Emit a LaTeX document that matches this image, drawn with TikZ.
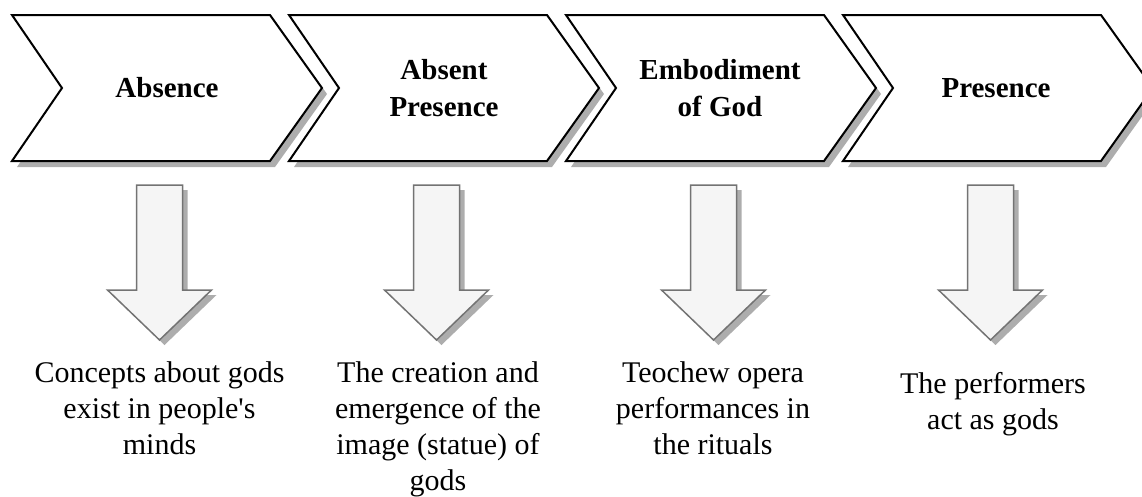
\documentclass[tikz,border=0pt]{standalone}
\usepackage{fontspec}
\setmainfont{Liberation Serif}
\begin{document}
\begin{tikzpicture}[x=1pt,y=-1pt,
  chev/.style={draw=black,line width=2pt,fill=white},
  shade/.style={fill=black!32,draw=none},
  darrow/.style={draw=black!55,line width=1.5pt,fill=black!4},
  title/.style={font=\bfseries\fontsize{29}{37}\selectfont,align=center,inner sep=0pt},
  caption/.style={font=\fontsize{30}{36}\selectfont,align=center,inner sep=0pt,anchor=north}]
\useasboundingbox (0,0) rectangle (1142,496);
% shadows of the chevrons
\fill[shade,shift={(17,6)}] (0,15) -- (258,15) -- (310,88) -- (258,161) -- (0,161) -- (50,88) -- cycle;
\fill[shade,shift={(294,6)}] (0,15) -- (258,15) -- (310,88) -- (258,161) -- (0,161) -- (50,88) -- cycle;
\fill[shade,shift={(571,6)}] (0,15) -- (258,15) -- (310,88) -- (258,161) -- (0,161) -- (50,88) -- cycle;
\fill[shade,shift={(848,6)}] (0,15) -- (258,15) -- (310,88) -- (258,161) -- (0,161) -- (50,88) -- cycle;
% chevrons
\draw[chev,shift={(12,0)}] (0,15) -- (258,15) -- (310,88) -- (258,161) -- (0,161) -- (50,88) -- cycle;
\draw[chev,shift={(289,0)}] (0,15) -- (258,15) -- (310,88) -- (258,161) -- (0,161) -- (50,88) -- cycle;
\draw[chev,shift={(566,0)}] (0,15) -- (258,15) -- (310,88) -- (258,161) -- (0,161) -- (50,88) -- cycle;
\draw[chev,shift={(843,0)}] (0,15) -- (258,15) -- (310,88) -- (258,161) -- (0,161) -- (50,88) -- cycle;
\node[title] (absence) at (167,88) {Absence};
\node[title] (absent) at (444,88) {Absent\\Presence};
\node[title] (embodiment) at (720,88) {Embodiment\\of God};
\node[title] (presence) at (996,88) {Presence};
% shadows of the down arrows
\fill[shade,shift={(164.5,5)}] (-23,185) -- (23,185) -- (23,290) -- (52,290) -- (0,340) -- (-52,290) -- (-23,290) -- cycle;
\fill[shade,shift={(441.5,5)}] (-23,185) -- (23,185) -- (23,290) -- (52,290) -- (0,340) -- (-52,290) -- (-23,290) -- cycle;
\fill[shade,shift={(718.5,5)}] (-23,185) -- (23,185) -- (23,290) -- (52,290) -- (0,340) -- (-52,290) -- (-23,290) -- cycle;
\fill[shade,shift={(995.5,5)}] (-23,185) -- (23,185) -- (23,290) -- (52,290) -- (0,340) -- (-52,290) -- (-23,290) -- cycle;
% down arrows
\draw[darrow,shift={(159.5,0)}] (-23,185) -- (23,185) -- (23,290) -- (52,290) -- (0,340) -- (-52,290) -- (-23,290) -- cycle;
\draw[darrow,shift={(436.5,0)}] (-23,185) -- (23,185) -- (23,290) -- (52,290) -- (0,340) -- (-52,290) -- (-23,290) -- cycle;
\draw[darrow,shift={(713.5,0)}] (-23,185) -- (23,185) -- (23,290) -- (52,290) -- (0,340) -- (-52,290) -- (-23,290) -- cycle;
\draw[darrow,shift={(990.5,0)}] (-23,185) -- (23,185) -- (23,290) -- (52,290) -- (0,340) -- (-52,290) -- (-23,290) -- cycle;
% captions
\node[caption] (concepts) at (159.5,361.5) {Concepts about gods\\exist in people\textquotesingle s\\minds};
\node[caption] (creation) at (438,361.5) {The creation and\\emergence of the\\image (statue) of\\gods};
\node[caption] (opera) at (713,361.5) {Teochew opera\\performances in\\the rituals};
\node[caption] (performers) at (993,372.5) {The performers\\act as gods};
\end{tikzpicture}
\end{document}
